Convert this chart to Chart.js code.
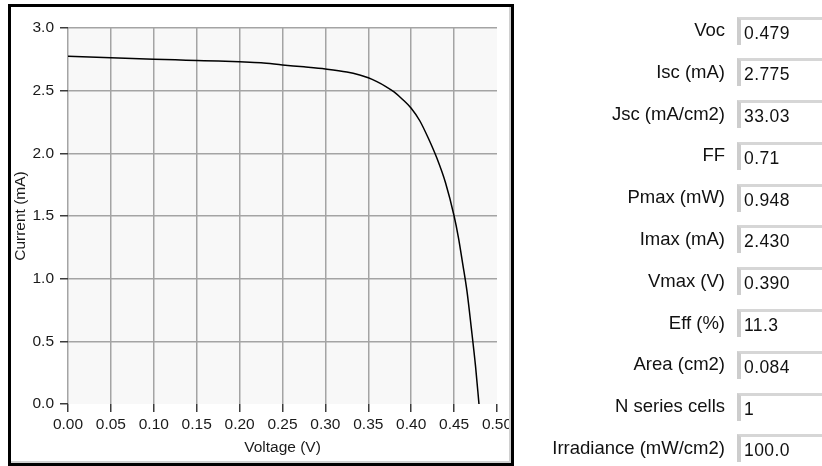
<!DOCTYPE html>
<html>
<head>
<meta charset="utf-8">
<script src="https://cdn.jsdelivr.net/npm/chart.js@4.4.1/dist/chart.umd.min.js"></script>
<style>
  html, body { margin: 0; padding: 0; background: #ffffff; width: 822px; height: 466px; overflow: hidden; }
  #chartCanvas { position: absolute; left: 0; top: 0; }
  #frame { position: absolute; left: 8px; top: 4px; width: 500px; height: 456px; border: 3px solid #000;
           box-shadow: inset -2px -2px 0 #d0d0d0; pointer-events: none; }
  #panel { position: absolute; left: 520px; top: 9px; width: 302px; font-family: "Liberation Sans", Arial, sans-serif; color: #111; }
  .row { position: relative; height: 41.8px; }
  .lab { position: absolute; right: 97px; top: 0; height: 41.8px; line-height: 41.8px; text-align: right; white-space: nowrap; font-size: 18.5px; }
  .box { position: absolute; left: 217px; top: 7.5px; width: 120px; height: 25px; line-height: 27px; font-size: 17.5px; letter-spacing: 0.4px;
         border-left: 4px solid #cdcdcd; border-top: 3px solid #d6d6d6; background: #fff; padding-left: 3px; white-space: nowrap; }
</style>
</head>
<body>
<canvas id="chartCanvas" width="520" height="466"></canvas>
<div id="frame"></div>
<div id="panel"></div>
<script>
// ---- data ----
const voltage = [0.000, 0.025, 0.050, 0.075, 0.100, 0.125, 0.150, 0.175, 0.200, 0.225,
                 0.250, 0.275, 0.300, 0.325, 0.340, 0.350, 0.360, 0.370, 0.380, 0.390,
                 0.400, 0.410, 0.420, 0.430, 0.440, 0.450, 0.455, 0.460, 0.465, 0.470,
                 0.475, 0.479];
const current = [2.775, 2.768, 2.762, 2.756, 2.751, 2.746, 2.741, 2.736, 2.730, 2.722,
                 2.705, 2.690, 2.673, 2.649, 2.625, 2.603, 2.572, 2.535, 2.490, 2.430,
                 2.360, 2.260, 2.120, 1.960, 1.765, 1.500, 1.330, 1.120, 0.900, 0.610,
                 0.300, 0.000];
const xTickValues = [0.00, 0.05, 0.10, 0.15, 0.20, 0.25, 0.30, 0.35, 0.40, 0.45, 0.50];
const yTickValues = [0.0, 0.5, 1.0, 1.5, 2.0, 2.5, 3.0];
const xTitle = "Voltage (V)";
const yTitle = "Current (mA)";
const paramLabels = ["Voc", "Isc (mA)", "Jsc (mA/cm2)", "FF", "Pmax (mW)", "Imax (mA)",
                     "Vmax (V)", "Eff (%)", "Area (cm2)", "N series cells", "Irradiance (mW/cm2)"];
const paramValues = ["0.479", "2.775", "33.03", "0.71", "0.948", "2.430",
                     "0.390", "11.3", "0.084", "1", "100.0"];

// ---- side panel ----
const panel = document.getElementById('panel');
paramLabels.forEach((lab, i) => {
  const row = document.createElement('div'); row.className = 'row';
  const l = document.createElement('div'); l.className = 'lab'; l.textContent = lab;
  const b = document.createElement('div'); b.className = 'box'; b.textContent = paramValues[i];
  row.appendChild(l); row.appendChild(b); panel.appendChild(row);
});

// ---- chart ----
const GRID = '#a4a4a4';
const plotBg = {
  id: 'plotBg',
  beforeDraw(chart) {
    const a = chart.chartArea, c = chart.ctx;
    c.save(); c.fillStyle = '#f8f8f8';
    c.fillRect(a.left, a.top, a.right - a.left, a.bottom - a.top);
    c.restore();
  }
};
const tickFont = { family: '"Liberation Sans", Arial, sans-serif', size: 15.5 };

new Chart(document.getElementById('chartCanvas'), {
  type: 'scatter',
  data: {
    datasets: [{
      data: voltage.map((v, i) => ({ x: v, y: current[i] })),
      showLine: true,
      borderColor: '#000',
      borderWidth: 1.5,
      pointRadius: 0,
      cubicInterpolationMode: 'monotone',
      fill: false
    }]
  },
  options: {
    responsive: false,
    animation: false,
    devicePixelRatio: 1,
    layout: { padding: { left: 0, top: 28, right: 23, bottom: 0 } },
    plugins: { legend: { display: false }, tooltip: { enabled: false } },
    scales: {
      x: {
        type: 'linear',
        min: xTickValues[0], max: xTickValues[xTickValues.length - 1],
        afterBuildTicks: s => { s.ticks = xTickValues.map(v => ({ value: v })); },
        afterFit: s => { s.height = 62; },
        ticks: { callback: v => Number(v).toFixed(2), font: tickFont, color: '#1a1a1a', padding: 3, maxRotation: 0, autoSkip: false },
        grid: {
          color: ctx => (ctx.tick && Math.abs(ctx.tick.value - 0.5) < 1e-9) ? 'rgba(0,0,0,0)' : GRID,
          lineWidth: 1.5, tickColor: '#3c3c3c', tickLength: 8, tickWidth: 1.5, drawTicks: true
        },
        border: { display: false },
        title: { display: true, text: xTitle, color: '#1a1a1a', font: tickFont, padding: { top: 0, bottom: 9 } }
      },
      y: {
        type: 'linear',
        min: yTickValues[0], max: yTickValues[yTickValues.length - 1],
        afterBuildTicks: s => { s.ticks = yTickValues.map(v => ({ value: v })); },
        afterFit: s => { s.width = 68; },
        ticks: { callback: v => Number(v).toFixed(1), font: tickFont, color: '#1a1a1a', padding: 6 },
        grid: {
          color: ctx => (ctx.tick && Math.abs(ctx.tick.value) < 1e-9) ? 'rgba(0,0,0,0)' : GRID,
          lineWidth: 1.5, tickColor: '#3c3c3c', tickLength: 8, tickWidth: 1.5, drawTicks: true
        },
        border: { display: false },
        title: { display: true, text: yTitle, color: '#1a1a1a', font: { family: tickFont.family, size: 15.5 }, padding: { top: 11, bottom: 0 } }
      }
    }
  },
  plugins: [plotBg]
});
</script>
</body>
</html>
